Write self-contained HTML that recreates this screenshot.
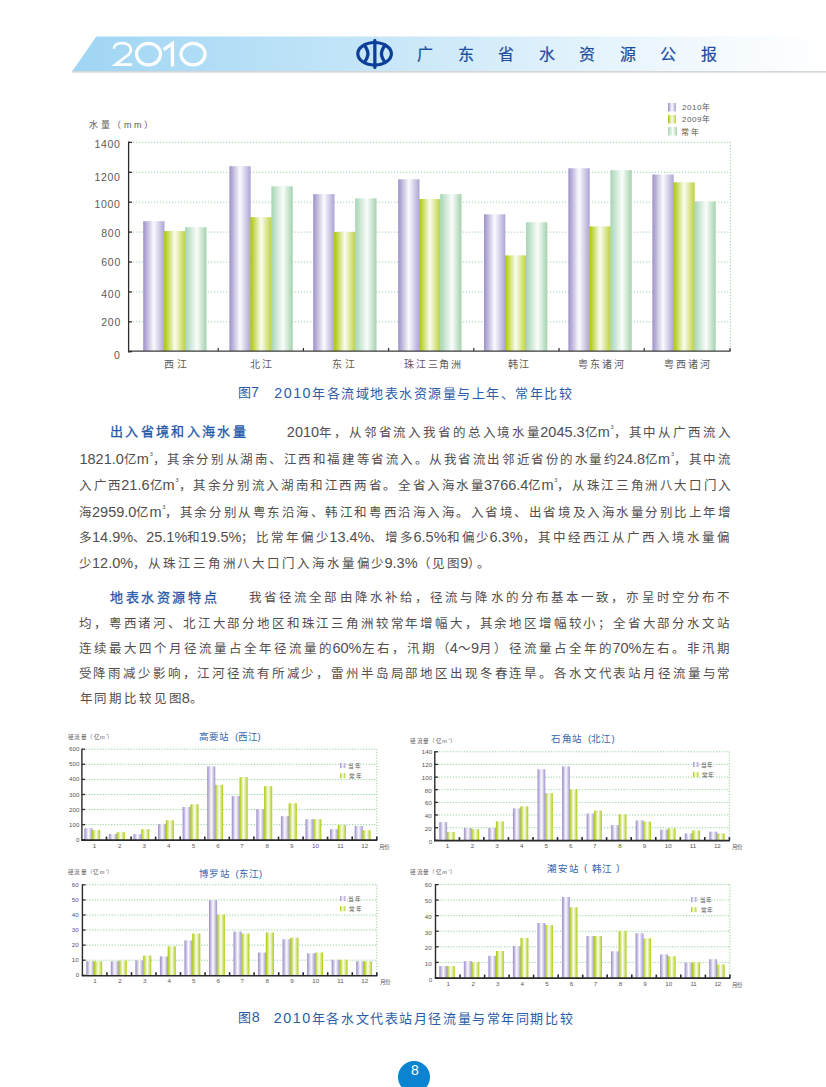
<!DOCTYPE html><html lang="zh-CN"><head><meta charset="utf-8"><title>2010 广东省水资源公报</title><style>
html,body{margin:0;padding:0;background:#fff;}
body{width:826px;height:1087px;position:relative;overflow:hidden;font-family:"Liberation Sans", sans-serif;}
.t{position:absolute;white-space:nowrap;line-height:1;}
svg.g{position:absolute;left:0;top:0;}
sup{font-size:0.45em;vertical-align:0;position:relative;top:-1.4em;margin-left:0.8px;letter-spacing:0;}.l{margin-left:calc(-1 * var(--ls, 0px));}
</style></head><body>
<svg class="g" width="826" height="1087" viewBox="0 0 826 1087"><defs><linearGradient id="band" x1="0" y1="0" x2="1" y2="0"><stop offset="0" stop-color="#9fd5f4"/><stop offset="0.4" stop-color="#c6e6f8"/><stop offset="0.65" stop-color="#e0f1fb"/><stop offset="0.88" stop-color="#f6fbfe"/><stop offset="1" stop-color="#ffffff"/></linearGradient><linearGradient id="gp" x1="0" y1="0" x2="1" y2="0"><stop offset="0" stop-color="#9d90c9"/><stop offset="0.5" stop-color="#fbfbfd"/><stop offset="1" stop-color="#ada3d5"/></linearGradient><linearGradient id="gy" x1="0" y1="0" x2="1" y2="0"><stop offset="0" stop-color="#a9c600"/><stop offset="0.5" stop-color="#fbfcf2"/><stop offset="1" stop-color="#bdd13c"/></linearGradient><linearGradient id="gg" x1="0" y1="0" x2="1" y2="0"><stop offset="0" stop-color="#a6d5b5"/><stop offset="0.55" stop-color="#fbfdfb"/><stop offset="1" stop-color="#a3d2ad"/></linearGradient><linearGradient id="gp2" x1="0" y1="0" x2="1" y2="0"><stop offset="0" stop-color="#9a8bc8"/><stop offset="0.22" stop-color="#c4bbe0"/><stop offset="0.5" stop-color="#fcfcfe"/><stop offset="0.78" stop-color="#cbc2e4"/><stop offset="1" stop-color="#a093cf"/></linearGradient><linearGradient id="gy2" x1="0" y1="0" x2="1" y2="0"><stop offset="0" stop-color="#a6c600"/><stop offset="0.22" stop-color="#cde06a"/><stop offset="0.5" stop-color="#fcfdf2"/><stop offset="0.78" stop-color="#d3e37a"/><stop offset="1" stop-color="#acca0c"/></linearGradient></defs><rect x="72" y="70.5" width="754" height="2.2" fill="#d6d6d6"/><polygon points="96.3,36.5 826,36.5 826,71 72.5,71" fill="url(#band)"/><g fill="none" stroke="#ffffff" stroke-width="3.2" stroke-linecap="butt" stroke-linejoin="miter"><path d="M113.8,48.6 C113.9,44.9 117.6,43.1 122.0,43.1 C127.2,43.1 130.9,45.7 130.9,49.4 C130.9,52.7 128.9,54.6 125.6,56.8 L115.4,64.7 L132.2,64.7" stroke-width="2.7"/><ellipse cx="148.55" cy="54.1" rx="12.05" ry="10.8"/><path d="M163.6,49.6 L172.4,43.6 L172.4,66.5" stroke-width="3.4"/><ellipse cx="193.05" cy="54.1" rx="12.05" ry="10.8"/></g><g fill="none" stroke="#0b3f99" stroke-width="3.2"><ellipse cx="374.6" cy="53.8" rx="16.8" ry="11.3"/><path d="M363.2,44.2 Q372.6,53.8 363.2,63.4"/><path d="M386.2,44.2 Q376.8,53.8 386.2,63.4"/></g><line x1="374.85" y1="40.4" x2="374.85" y2="67.4" stroke="#0b3f99" stroke-width="3.3" stroke-linecap="round"/><line x1="133" y1="321.8" x2="730.5" y2="321.8" stroke="#9fd2a6" stroke-width="1" stroke-dasharray="1.2,1.8"/><line x1="133" y1="291.9" x2="730.5" y2="291.9" stroke="#9fd2a6" stroke-width="1" stroke-dasharray="1.2,1.8"/><line x1="133" y1="262.0" x2="730.5" y2="262.0" stroke="#9fd2a6" stroke-width="1" stroke-dasharray="1.2,1.8"/><line x1="133" y1="232.1" x2="730.5" y2="232.1" stroke="#9fd2a6" stroke-width="1" stroke-dasharray="1.2,1.8"/><line x1="133" y1="202.2" x2="730.5" y2="202.2" stroke="#9fd2a6" stroke-width="1" stroke-dasharray="1.2,1.8"/><line x1="133" y1="172.3" x2="730.5" y2="172.3" stroke="#9fd2a6" stroke-width="1" stroke-dasharray="1.2,1.8"/><line x1="133" y1="142.4" x2="730.5" y2="142.4" stroke="#9fd2a6" stroke-width="1" stroke-dasharray="1.2,1.8"/><line x1="730.4" y1="142" x2="730.4" y2="351.7" stroke="#9fd2a6" stroke-width="1" stroke-dasharray="1.2,1.8"/><rect x="143.20" y="221.19" width="21.30" height="129.91" fill="url(#gp)"/><rect x="164.20" y="231.05" width="21.30" height="120.05" fill="url(#gy)"/><rect x="185.20" y="227.17" width="21.30" height="123.93" fill="url(#gg)"/><rect x="229.40" y="166.17" width="21.30" height="184.93" fill="url(#gp)"/><rect x="250.40" y="217.15" width="21.30" height="133.95" fill="url(#gy)"/><rect x="271.40" y="186.35" width="21.30" height="164.75" fill="url(#gg)"/><rect x="313.20" y="194.13" width="21.30" height="156.97" fill="url(#gp)"/><rect x="334.20" y="232.10" width="21.30" height="119.00" fill="url(#gy)"/><rect x="355.20" y="198.31" width="21.30" height="152.79" fill="url(#gg)"/><rect x="398.20" y="179.33" width="21.30" height="171.77" fill="url(#gp)"/><rect x="419.20" y="199.06" width="21.30" height="152.04" fill="url(#gy)"/><rect x="440.20" y="194.13" width="21.30" height="156.97" fill="url(#gg)"/><rect x="484.00" y="214.31" width="21.30" height="136.79" fill="url(#gp)"/><rect x="505.00" y="255.42" width="21.30" height="95.68" fill="url(#gy)"/><rect x="526.00" y="222.23" width="21.30" height="128.87" fill="url(#gg)"/><rect x="568.40" y="168.26" width="21.30" height="182.84" fill="url(#gp)"/><rect x="589.40" y="226.42" width="21.30" height="124.68" fill="url(#gy)"/><rect x="610.40" y="170.21" width="21.30" height="180.89" fill="url(#gg)"/><rect x="652.40" y="174.54" width="21.30" height="176.56" fill="url(#gp)"/><rect x="673.40" y="182.32" width="21.30" height="168.78" fill="url(#gy)"/><rect x="694.40" y="201.45" width="21.30" height="149.65" fill="url(#gg)"/><line x1="128.6" y1="141.5" x2="128.6" y2="352.5" stroke="#2b2b2b" stroke-width="1.3"/><line x1="128" y1="351.1" x2="730.6" y2="351.1" stroke="#3b3b3b" stroke-width="1.4"/><line x1="128.6" y1="351.7" x2="132" y2="351.7" stroke="#2b2b2b" stroke-width="1.3"/><line x1="128.6" y1="321.8" x2="132" y2="321.8" stroke="#2b2b2b" stroke-width="1.3"/><line x1="128.6" y1="291.9" x2="132" y2="291.9" stroke="#2b2b2b" stroke-width="1.3"/><line x1="128.6" y1="262.0" x2="132" y2="262.0" stroke="#2b2b2b" stroke-width="1.3"/><line x1="128.6" y1="232.1" x2="132" y2="232.1" stroke="#2b2b2b" stroke-width="1.3"/><line x1="128.6" y1="202.2" x2="132" y2="202.2" stroke="#2b2b2b" stroke-width="1.3"/><line x1="128.6" y1="172.3" x2="132" y2="172.3" stroke="#2b2b2b" stroke-width="1.3"/><line x1="128.6" y1="142.4" x2="132" y2="142.4" stroke="#2b2b2b" stroke-width="1.3"/><line x1="218.2" y1="351.1" x2="218.2" y2="348.1" stroke="#2b2b2b" stroke-width="1.2"/><line x1="303.4" y1="351.1" x2="303.4" y2="348.1" stroke="#2b2b2b" stroke-width="1.2"/><line x1="388.6" y1="351.1" x2="388.6" y2="348.1" stroke="#2b2b2b" stroke-width="1.2"/><line x1="473.8" y1="351.1" x2="473.8" y2="348.1" stroke="#2b2b2b" stroke-width="1.2"/><line x1="559.0" y1="351.1" x2="559.0" y2="348.1" stroke="#2b2b2b" stroke-width="1.2"/><line x1="644.2" y1="351.1" x2="644.2" y2="348.1" stroke="#2b2b2b" stroke-width="1.2"/><line x1="730.0" y1="351.1" x2="730.0" y2="348.1" stroke="#2b2b2b" stroke-width="1.2"/><rect x="668" y="103" width="8" height="8.5" fill="url(#gp)"/><rect x="668" y="115" width="8" height="8.5" fill="url(#gy)"/><rect x="668" y="127" width="9" height="8.5" fill="url(#gg)"/><line x1="85.9" y1="824.6" x2="376.8" y2="824.6" stroke="#96d29e" stroke-width="1" stroke-dasharray="1.2,1.6"/><line x1="85.9" y1="809.5" x2="376.8" y2="809.5" stroke="#96d29e" stroke-width="1" stroke-dasharray="1.2,1.6"/><line x1="85.9" y1="794.5" x2="376.8" y2="794.5" stroke="#96d29e" stroke-width="1" stroke-dasharray="1.2,1.6"/><line x1="85.9" y1="779.4" x2="376.8" y2="779.4" stroke="#96d29e" stroke-width="1" stroke-dasharray="1.2,1.6"/><line x1="85.9" y1="764.3" x2="376.8" y2="764.3" stroke="#96d29e" stroke-width="1" stroke-dasharray="1.2,1.6"/><line x1="85.9" y1="749.2" x2="376.8" y2="749.2" stroke="#96d29e" stroke-width="1" stroke-dasharray="1.2,1.6"/><line x1="376.8" y1="749.2" x2="376.8" y2="839.7" stroke="#96d29e" stroke-width="1" stroke-dasharray="1.2,1.6"/><rect x="84.30" y="828.24" width="8.10" height="11.86" fill="url(#gp2)"/><rect x="92.10" y="830.05" width="8.10" height="10.05" fill="url(#gy2)"/><rect x="108.88" y="834.12" width="8.10" height="5.98" fill="url(#gp2)"/><rect x="116.68" y="832.16" width="8.10" height="7.94" fill="url(#gy2)"/><rect x="133.45" y="834.12" width="8.10" height="5.98" fill="url(#gp2)"/><rect x="141.25" y="829.14" width="8.10" height="10.96" fill="url(#gy2)"/><rect x="158.03" y="824.01" width="8.10" height="16.09" fill="url(#gp2)"/><rect x="165.83" y="820.24" width="8.10" height="19.86" fill="url(#gy2)"/><rect x="182.60" y="806.97" width="8.10" height="33.13" fill="url(#gp2)"/><rect x="190.40" y="804.25" width="8.10" height="35.85" fill="url(#gy2)"/><rect x="207.18" y="766.39" width="8.10" height="73.71" fill="url(#gp2)"/><rect x="214.98" y="784.80" width="8.10" height="55.30" fill="url(#gy2)"/><rect x="231.75" y="796.11" width="8.10" height="43.99" fill="url(#gp2)"/><rect x="239.55" y="777.10" width="8.10" height="63.00" fill="url(#gy2)"/><rect x="256.32" y="809.08" width="8.10" height="31.02" fill="url(#gp2)"/><rect x="264.12" y="786.15" width="8.10" height="53.95" fill="url(#gy2)"/><rect x="280.90" y="816.17" width="8.10" height="23.93" fill="url(#gp2)"/><rect x="288.70" y="803.20" width="8.10" height="36.90" fill="url(#gy2)"/><rect x="305.47" y="819.19" width="8.10" height="20.91" fill="url(#gp2)"/><rect x="313.27" y="819.19" width="8.10" height="20.91" fill="url(#gy2)"/><rect x="330.05" y="829.14" width="8.10" height="10.96" fill="url(#gp2)"/><rect x="337.85" y="824.92" width="8.10" height="15.18" fill="url(#gy2)"/><rect x="354.62" y="825.97" width="8.10" height="14.13" fill="url(#gp2)"/><rect x="362.43" y="830.20" width="8.10" height="9.90" fill="url(#gy2)"/><line x1="81.9" y1="748.7" x2="81.9" y2="840.5" stroke="#2a2a2a" stroke-width="1.4"/><line x1="81.2" y1="840.1" x2="377.3" y2="840.1" stroke="#2a2a2a" stroke-width="1.6"/><line x1="81.9" y1="839.7" x2="85.1" y2="839.7" stroke="#2a2a2a" stroke-width="1.3"/><line x1="81.9" y1="824.6" x2="85.1" y2="824.6" stroke="#2a2a2a" stroke-width="1.3"/><line x1="81.9" y1="809.5" x2="85.1" y2="809.5" stroke="#2a2a2a" stroke-width="1.3"/><line x1="81.9" y1="794.5" x2="85.1" y2="794.5" stroke="#2a2a2a" stroke-width="1.3"/><line x1="81.9" y1="779.4" x2="85.1" y2="779.4" stroke="#2a2a2a" stroke-width="1.3"/><line x1="81.9" y1="764.3" x2="85.1" y2="764.3" stroke="#2a2a2a" stroke-width="1.3"/><line x1="81.9" y1="749.2" x2="85.1" y2="749.2" stroke="#2a2a2a" stroke-width="1.3"/><line x1="106.5" y1="840.1" x2="106.5" y2="836.6" stroke="#2a2a2a" stroke-width="1.6"/><line x1="131.1" y1="840.1" x2="131.1" y2="836.6" stroke="#2a2a2a" stroke-width="1.6"/><line x1="155.6" y1="840.1" x2="155.6" y2="836.6" stroke="#2a2a2a" stroke-width="1.6"/><line x1="180.2" y1="840.1" x2="180.2" y2="836.6" stroke="#2a2a2a" stroke-width="1.6"/><line x1="204.8" y1="840.1" x2="204.8" y2="836.6" stroke="#2a2a2a" stroke-width="1.6"/><line x1="229.3" y1="840.1" x2="229.3" y2="836.6" stroke="#2a2a2a" stroke-width="1.6"/><line x1="253.9" y1="840.1" x2="253.9" y2="836.6" stroke="#2a2a2a" stroke-width="1.6"/><line x1="278.5" y1="840.1" x2="278.5" y2="836.6" stroke="#2a2a2a" stroke-width="1.6"/><line x1="303.1" y1="840.1" x2="303.1" y2="836.6" stroke="#2a2a2a" stroke-width="1.6"/><line x1="327.6" y1="840.1" x2="327.6" y2="836.6" stroke="#2a2a2a" stroke-width="1.6"/><line x1="352.2" y1="840.1" x2="352.2" y2="836.6" stroke="#2a2a2a" stroke-width="1.6"/><line x1="376.8" y1="840.1" x2="376.8" y2="836.6" stroke="#2a2a2a" stroke-width="1.6"/><rect x="340" y="763" width="5.4" height="5" fill="url(#gp2)"/><rect x="340" y="773.2" width="5.4" height="5" fill="url(#gy2)"/><line x1="438.8" y1="827.7" x2="729.4" y2="827.7" stroke="#96d29e" stroke-width="1" stroke-dasharray="1.2,1.6"/><line x1="438.8" y1="815.0" x2="729.4" y2="815.0" stroke="#96d29e" stroke-width="1" stroke-dasharray="1.2,1.6"/><line x1="438.8" y1="802.4" x2="729.4" y2="802.4" stroke="#96d29e" stroke-width="1" stroke-dasharray="1.2,1.6"/><line x1="438.8" y1="789.7" x2="729.4" y2="789.7" stroke="#96d29e" stroke-width="1" stroke-dasharray="1.2,1.6"/><line x1="438.8" y1="777.1" x2="729.4" y2="777.1" stroke="#96d29e" stroke-width="1" stroke-dasharray="1.2,1.6"/><line x1="438.8" y1="764.4" x2="729.4" y2="764.4" stroke="#96d29e" stroke-width="1" stroke-dasharray="1.2,1.6"/><line x1="438.8" y1="751.8" x2="729.4" y2="751.8" stroke="#96d29e" stroke-width="1" stroke-dasharray="1.2,1.6"/><line x1="729.4" y1="751.8" x2="729.4" y2="840.3" stroke="#96d29e" stroke-width="1" stroke-dasharray="1.2,1.6"/><rect x="439.30" y="822.09" width="7.80" height="18.51" fill="url(#gp2)"/><rect x="446.80" y="831.96" width="7.80" height="8.64" fill="url(#gy2)"/><rect x="463.85" y="828.04" width="7.80" height="12.56" fill="url(#gp2)"/><rect x="471.35" y="829.05" width="7.80" height="11.55" fill="url(#gy2)"/><rect x="488.40" y="828.04" width="7.80" height="12.56" fill="url(#gp2)"/><rect x="495.90" y="821.34" width="7.80" height="19.26" fill="url(#gy2)"/><rect x="512.95" y="808.38" width="7.80" height="32.22" fill="url(#gp2)"/><rect x="520.45" y="806.35" width="7.80" height="34.25" fill="url(#gy2)"/><rect x="537.50" y="769.25" width="7.80" height="71.35" fill="url(#gp2)"/><rect x="545.00" y="793.21" width="7.80" height="47.39" fill="url(#gy2)"/><rect x="562.05" y="766.40" width="7.80" height="74.20" fill="url(#gp2)"/><rect x="569.55" y="789.35" width="7.80" height="51.25" fill="url(#gy2)"/><rect x="586.60" y="813.50" width="7.80" height="27.10" fill="url(#gp2)"/><rect x="594.10" y="810.59" width="7.80" height="30.01" fill="url(#gy2)"/><rect x="611.15" y="825.13" width="7.80" height="15.47" fill="url(#gp2)"/><rect x="618.65" y="814.38" width="7.80" height="26.22" fill="url(#gy2)"/><rect x="635.70" y="820.39" width="7.80" height="20.21" fill="url(#gp2)"/><rect x="643.20" y="821.59" width="7.80" height="19.01" fill="url(#gy2)"/><rect x="660.25" y="829.55" width="7.80" height="11.05" fill="url(#gp2)"/><rect x="667.75" y="828.29" width="7.80" height="12.31" fill="url(#gy2)"/><rect x="684.80" y="833.35" width="7.80" height="7.25" fill="url(#gp2)"/><rect x="692.30" y="830.44" width="7.80" height="10.16" fill="url(#gy2)"/><rect x="709.35" y="831.64" width="7.80" height="8.96" fill="url(#gp2)"/><rect x="716.85" y="833.35" width="7.80" height="7.25" fill="url(#gy2)"/><line x1="434.8" y1="751.3" x2="434.8" y2="841.1" stroke="#2a2a2a" stroke-width="1.4"/><line x1="434.1" y1="840.6" x2="729.9" y2="840.6" stroke="#2a2a2a" stroke-width="1.6"/><line x1="434.8" y1="840.3" x2="438.0" y2="840.3" stroke="#2a2a2a" stroke-width="1.3"/><line x1="434.8" y1="827.7" x2="438.0" y2="827.7" stroke="#2a2a2a" stroke-width="1.3"/><line x1="434.8" y1="815.0" x2="438.0" y2="815.0" stroke="#2a2a2a" stroke-width="1.3"/><line x1="434.8" y1="802.4" x2="438.0" y2="802.4" stroke="#2a2a2a" stroke-width="1.3"/><line x1="434.8" y1="789.7" x2="438.0" y2="789.7" stroke="#2a2a2a" stroke-width="1.3"/><line x1="434.8" y1="777.1" x2="438.0" y2="777.1" stroke="#2a2a2a" stroke-width="1.3"/><line x1="434.8" y1="764.4" x2="438.0" y2="764.4" stroke="#2a2a2a" stroke-width="1.3"/><line x1="434.8" y1="751.8" x2="438.0" y2="751.8" stroke="#2a2a2a" stroke-width="1.3"/><line x1="459.4" y1="840.6" x2="459.4" y2="837.1" stroke="#2a2a2a" stroke-width="1.6"/><line x1="483.9" y1="840.6" x2="483.9" y2="837.1" stroke="#2a2a2a" stroke-width="1.6"/><line x1="508.4" y1="840.6" x2="508.4" y2="837.1" stroke="#2a2a2a" stroke-width="1.6"/><line x1="533.0" y1="840.6" x2="533.0" y2="837.1" stroke="#2a2a2a" stroke-width="1.6"/><line x1="557.5" y1="840.6" x2="557.5" y2="837.1" stroke="#2a2a2a" stroke-width="1.6"/><line x1="582.1" y1="840.6" x2="582.1" y2="837.1" stroke="#2a2a2a" stroke-width="1.6"/><line x1="606.6" y1="840.6" x2="606.6" y2="837.1" stroke="#2a2a2a" stroke-width="1.6"/><line x1="631.2" y1="840.6" x2="631.2" y2="837.1" stroke="#2a2a2a" stroke-width="1.6"/><line x1="655.8" y1="840.6" x2="655.8" y2="837.1" stroke="#2a2a2a" stroke-width="1.6"/><line x1="680.3" y1="840.6" x2="680.3" y2="837.1" stroke="#2a2a2a" stroke-width="1.6"/><line x1="704.8" y1="840.6" x2="704.8" y2="837.1" stroke="#2a2a2a" stroke-width="1.6"/><line x1="729.4" y1="840.6" x2="729.4" y2="837.1" stroke="#2a2a2a" stroke-width="1.6"/><rect x="693" y="762" width="5.4" height="5" fill="url(#gp2)"/><rect x="693" y="772.2" width="5.4" height="5" fill="url(#gy2)"/><line x1="86.4" y1="960.2" x2="376.8" y2="960.2" stroke="#96d29e" stroke-width="1" stroke-dasharray="1.2,1.6"/><line x1="86.4" y1="945.1" x2="376.8" y2="945.1" stroke="#96d29e" stroke-width="1" stroke-dasharray="1.2,1.6"/><line x1="86.4" y1="930.0" x2="376.8" y2="930.0" stroke="#96d29e" stroke-width="1" stroke-dasharray="1.2,1.6"/><line x1="86.4" y1="915.0" x2="376.8" y2="915.0" stroke="#96d29e" stroke-width="1" stroke-dasharray="1.2,1.6"/><line x1="86.4" y1="899.9" x2="376.8" y2="899.9" stroke="#96d29e" stroke-width="1" stroke-dasharray="1.2,1.6"/><line x1="86.4" y1="884.8" x2="376.8" y2="884.8" stroke="#96d29e" stroke-width="1" stroke-dasharray="1.2,1.6"/><line x1="376.8" y1="884.8" x2="376.8" y2="975.3" stroke="#96d29e" stroke-width="1" stroke-dasharray="1.2,1.6"/><rect x="86.30" y="961.27" width="8.10" height="14.43" fill="url(#gp2)"/><rect x="94.10" y="961.27" width="8.10" height="14.43" fill="url(#gy2)"/><rect x="110.83" y="961.27" width="8.10" height="14.43" fill="url(#gp2)"/><rect x="118.63" y="960.52" width="8.10" height="15.18" fill="url(#gy2)"/><rect x="135.37" y="960.37" width="8.10" height="15.33" fill="url(#gp2)"/><rect x="143.17" y="955.54" width="8.10" height="20.16" fill="url(#gy2)"/><rect x="159.90" y="956.45" width="8.10" height="19.25" fill="url(#gp2)"/><rect x="167.70" y="946.34" width="8.10" height="29.36" fill="url(#gy2)"/><rect x="184.43" y="940.46" width="8.10" height="35.24" fill="url(#gp2)"/><rect x="192.23" y="933.52" width="8.10" height="42.18" fill="url(#gy2)"/><rect x="208.97" y="900.18" width="8.10" height="75.52" fill="url(#gp2)"/><rect x="216.77" y="914.51" width="8.10" height="61.19" fill="url(#gy2)"/><rect x="233.50" y="931.56" width="8.10" height="44.14" fill="url(#gp2)"/><rect x="241.30" y="933.52" width="8.10" height="42.18" fill="url(#gy2)"/><rect x="258.03" y="952.52" width="8.10" height="23.18" fill="url(#gp2)"/><rect x="265.83" y="932.46" width="8.10" height="43.24" fill="url(#gy2)"/><rect x="282.57" y="939.25" width="8.10" height="36.45" fill="url(#gp2)"/><rect x="290.37" y="937.74" width="8.10" height="37.96" fill="url(#gy2)"/><rect x="307.10" y="953.43" width="8.10" height="22.27" fill="url(#gp2)"/><rect x="314.90" y="952.52" width="8.10" height="23.18" fill="url(#gy2)"/><rect x="331.63" y="959.76" width="8.10" height="15.94" fill="url(#gp2)"/><rect x="339.43" y="959.76" width="8.10" height="15.94" fill="url(#gy2)"/><rect x="356.17" y="961.27" width="8.10" height="14.43" fill="url(#gp2)"/><rect x="363.97" y="961.27" width="8.10" height="14.43" fill="url(#gy2)"/><line x1="82.4" y1="884.3" x2="82.4" y2="976.1" stroke="#2a2a2a" stroke-width="1.4"/><line x1="81.7" y1="975.7" x2="377.3" y2="975.7" stroke="#2a2a2a" stroke-width="1.6"/><line x1="82.4" y1="975.3" x2="85.6" y2="975.3" stroke="#2a2a2a" stroke-width="1.3"/><line x1="82.4" y1="960.2" x2="85.6" y2="960.2" stroke="#2a2a2a" stroke-width="1.3"/><line x1="82.4" y1="945.1" x2="85.6" y2="945.1" stroke="#2a2a2a" stroke-width="1.3"/><line x1="82.4" y1="930.0" x2="85.6" y2="930.0" stroke="#2a2a2a" stroke-width="1.3"/><line x1="82.4" y1="915.0" x2="85.6" y2="915.0" stroke="#2a2a2a" stroke-width="1.3"/><line x1="82.4" y1="899.9" x2="85.6" y2="899.9" stroke="#2a2a2a" stroke-width="1.3"/><line x1="82.4" y1="884.8" x2="85.6" y2="884.8" stroke="#2a2a2a" stroke-width="1.3"/><line x1="106.9" y1="975.7" x2="106.9" y2="972.2" stroke="#2a2a2a" stroke-width="1.6"/><line x1="131.5" y1="975.7" x2="131.5" y2="972.2" stroke="#2a2a2a" stroke-width="1.6"/><line x1="156.0" y1="975.7" x2="156.0" y2="972.2" stroke="#2a2a2a" stroke-width="1.6"/><line x1="180.5" y1="975.7" x2="180.5" y2="972.2" stroke="#2a2a2a" stroke-width="1.6"/><line x1="205.1" y1="975.7" x2="205.1" y2="972.2" stroke="#2a2a2a" stroke-width="1.6"/><line x1="229.6" y1="975.7" x2="229.6" y2="972.2" stroke="#2a2a2a" stroke-width="1.6"/><line x1="254.1" y1="975.7" x2="254.1" y2="972.2" stroke="#2a2a2a" stroke-width="1.6"/><line x1="278.7" y1="975.7" x2="278.7" y2="972.2" stroke="#2a2a2a" stroke-width="1.6"/><line x1="303.2" y1="975.7" x2="303.2" y2="972.2" stroke="#2a2a2a" stroke-width="1.6"/><line x1="327.7" y1="975.7" x2="327.7" y2="972.2" stroke="#2a2a2a" stroke-width="1.6"/><line x1="352.3" y1="975.7" x2="352.3" y2="972.2" stroke="#2a2a2a" stroke-width="1.6"/><line x1="376.8" y1="975.7" x2="376.8" y2="972.2" stroke="#2a2a2a" stroke-width="1.6"/><rect x="340" y="896" width="5.4" height="5" fill="url(#gp2)"/><rect x="340" y="906.2" width="5.4" height="5" fill="url(#gy2)"/><line x1="439.5" y1="962.4" x2="729.9" y2="962.4" stroke="#96d29e" stroke-width="1" stroke-dasharray="1.2,1.6"/><line x1="439.5" y1="946.8" x2="729.9" y2="946.8" stroke="#96d29e" stroke-width="1" stroke-dasharray="1.2,1.6"/><line x1="439.5" y1="931.2" x2="729.9" y2="931.2" stroke="#96d29e" stroke-width="1" stroke-dasharray="1.2,1.6"/><line x1="439.5" y1="915.7" x2="729.9" y2="915.7" stroke="#96d29e" stroke-width="1" stroke-dasharray="1.2,1.6"/><line x1="439.5" y1="900.1" x2="729.9" y2="900.1" stroke="#96d29e" stroke-width="1" stroke-dasharray="1.2,1.6"/><line x1="439.5" y1="884.6" x2="729.9" y2="884.6" stroke="#96d29e" stroke-width="1" stroke-dasharray="1.2,1.6"/><line x1="729.9" y1="884.6" x2="729.9" y2="977.9" stroke="#96d29e" stroke-width="1" stroke-dasharray="1.2,1.6"/><rect x="439.30" y="966.08" width="7.90" height="12.02" fill="url(#gp2)"/><rect x="446.90" y="966.08" width="7.90" height="12.02" fill="url(#gy2)"/><rect x="463.83" y="961.11" width="7.90" height="16.99" fill="url(#gp2)"/><rect x="471.43" y="962.04" width="7.90" height="16.06" fill="url(#gy2)"/><rect x="488.37" y="955.82" width="7.90" height="22.28" fill="url(#gp2)"/><rect x="495.97" y="951.00" width="7.90" height="27.10" fill="url(#gy2)"/><rect x="512.90" y="946.02" width="7.90" height="32.08" fill="url(#gp2)"/><rect x="520.50" y="937.94" width="7.90" height="40.16" fill="url(#gy2)"/><rect x="537.43" y="923.01" width="7.90" height="55.09" fill="url(#gp2)"/><rect x="545.03" y="925.03" width="7.90" height="53.07" fill="url(#gy2)"/><rect x="561.97" y="897.04" width="7.90" height="81.06" fill="url(#gp2)"/><rect x="569.57" y="907.15" width="7.90" height="70.95" fill="url(#gy2)"/><rect x="586.50" y="936.07" width="7.90" height="42.03" fill="url(#gp2)"/><rect x="594.10" y="936.07" width="7.90" height="42.03" fill="url(#gy2)"/><rect x="611.03" y="951.31" width="7.90" height="26.79" fill="url(#gp2)"/><rect x="618.63" y="930.94" width="7.90" height="47.16" fill="url(#gy2)"/><rect x="635.57" y="933.27" width="7.90" height="44.83" fill="url(#gp2)"/><rect x="643.17" y="938.40" width="7.90" height="39.70" fill="url(#gy2)"/><rect x="660.10" y="954.42" width="7.90" height="23.68" fill="url(#gp2)"/><rect x="667.70" y="956.29" width="7.90" height="21.81" fill="url(#gy2)"/><rect x="684.63" y="962.51" width="7.90" height="15.59" fill="url(#gp2)"/><rect x="692.23" y="962.51" width="7.90" height="15.59" fill="url(#gy2)"/><rect x="709.17" y="959.24" width="7.90" height="18.86" fill="url(#gp2)"/><rect x="716.77" y="964.37" width="7.90" height="13.73" fill="url(#gy2)"/><line x1="435.5" y1="884.1" x2="435.5" y2="978.7" stroke="#2a2a2a" stroke-width="1.4"/><line x1="434.8" y1="978.1" x2="730.4" y2="978.1" stroke="#2a2a2a" stroke-width="1.6"/><line x1="435.5" y1="977.9" x2="438.7" y2="977.9" stroke="#2a2a2a" stroke-width="1.3"/><line x1="435.5" y1="962.4" x2="438.7" y2="962.4" stroke="#2a2a2a" stroke-width="1.3"/><line x1="435.5" y1="946.8" x2="438.7" y2="946.8" stroke="#2a2a2a" stroke-width="1.3"/><line x1="435.5" y1="931.2" x2="438.7" y2="931.2" stroke="#2a2a2a" stroke-width="1.3"/><line x1="435.5" y1="915.7" x2="438.7" y2="915.7" stroke="#2a2a2a" stroke-width="1.3"/><line x1="435.5" y1="900.1" x2="438.7" y2="900.1" stroke="#2a2a2a" stroke-width="1.3"/><line x1="435.5" y1="884.6" x2="438.7" y2="884.6" stroke="#2a2a2a" stroke-width="1.3"/><line x1="460.0" y1="978.1" x2="460.0" y2="974.6" stroke="#2a2a2a" stroke-width="1.6"/><line x1="484.6" y1="978.1" x2="484.6" y2="974.6" stroke="#2a2a2a" stroke-width="1.6"/><line x1="509.1" y1="978.1" x2="509.1" y2="974.6" stroke="#2a2a2a" stroke-width="1.6"/><line x1="533.6" y1="978.1" x2="533.6" y2="974.6" stroke="#2a2a2a" stroke-width="1.6"/><line x1="558.2" y1="978.1" x2="558.2" y2="974.6" stroke="#2a2a2a" stroke-width="1.6"/><line x1="582.7" y1="978.1" x2="582.7" y2="974.6" stroke="#2a2a2a" stroke-width="1.6"/><line x1="607.2" y1="978.1" x2="607.2" y2="974.6" stroke="#2a2a2a" stroke-width="1.6"/><line x1="631.8" y1="978.1" x2="631.8" y2="974.6" stroke="#2a2a2a" stroke-width="1.6"/><line x1="656.3" y1="978.1" x2="656.3" y2="974.6" stroke="#2a2a2a" stroke-width="1.6"/><line x1="680.8" y1="978.1" x2="680.8" y2="974.6" stroke="#2a2a2a" stroke-width="1.6"/><line x1="705.4" y1="978.1" x2="705.4" y2="974.6" stroke="#2a2a2a" stroke-width="1.6"/><line x1="729.9" y1="978.1" x2="729.9" y2="974.6" stroke="#2a2a2a" stroke-width="1.6"/><rect x="691" y="897" width="5.4" height="5" fill="url(#gp2)"/><rect x="691" y="907.2" width="5.4" height="5" fill="url(#gy2)"/><circle cx="414" cy="1077" r="16" fill="#0a84d0"/></svg>
<div class="t" style="left:417.2px;top:47.4px;font-size:16px;color:#1d4d9e;--ls:24.514px;letter-spacing:24.514px;-webkit-text-stroke:0.2px #1d4d9e;">广东省水资源公报</div>
<div class="t" style="left:89.0px;top:121.2px;font-size:9px;color:#5e5959;--ls:2.640px;letter-spacing:2.640px;">水量（mm）</div>
<div class="t" style="left:94.5px;top:138.6px;font-size:10.5px;color:#5e5959;--ls:0.667px;letter-spacing:0.667px;">1400</div>
<div class="t" style="left:94.5px;top:171.5px;font-size:10.5px;color:#5e5959;--ls:0.667px;letter-spacing:0.667px;">1200</div>
<div class="t" style="left:94.5px;top:199.1px;font-size:10.5px;color:#5e5959;--ls:0.667px;letter-spacing:0.667px;">1000</div>
<div class="t" style="left:101.2px;top:228.3px;font-size:10.5px;color:#5e5959;--ls:0.800px;letter-spacing:0.800px;">800</div>
<div class="t" style="left:101.2px;top:256.7px;font-size:10.5px;color:#5e5959;--ls:0.800px;letter-spacing:0.800px;">600</div>
<div class="t" style="left:101.2px;top:289.2px;font-size:10.5px;color:#5e5959;--ls:0.800px;letter-spacing:0.800px;">400</div>
<div class="t" style="left:101.2px;top:316.6px;font-size:10.5px;color:#5e5959;--ls:0.800px;letter-spacing:0.800px;">200</div>
<div class="t" style="left:114.0px;top:350.4px;font-size:10.5px;color:#5e5959;--ls:0.000px;letter-spacing:0.000px;">0</div>
<div class="t" style="left:164.1px;top:359.8px;font-size:10px;color:#5e5959;--ls:2.600px;letter-spacing:2.600px;">西江</div>
<div class="t" style="left:249.7px;top:359.8px;font-size:10px;color:#5e5959;--ls:2.800px;letter-spacing:2.800px;">北江</div>
<div class="t" style="left:332.2px;top:359.8px;font-size:10px;color:#5e5959;--ls:2.800px;letter-spacing:2.800px;">东江</div>
<div class="t" style="left:404.3px;top:359.8px;font-size:10px;color:#5e5959;--ls:1.650px;letter-spacing:1.650px;">珠江三角洲</div>
<div class="t" style="left:507.6px;top:359.8px;font-size:10px;color:#5e5959;--ls:1.600px;letter-spacing:1.600px;">韩江</div>
<div class="t" style="left:577.8px;top:359.8px;font-size:10px;color:#5e5959;--ls:2.000px;letter-spacing:2.000px;">粤东诸河</div>
<div class="t" style="left:664.0px;top:359.8px;font-size:10px;color:#5e5959;--ls:2.000px;letter-spacing:2.000px;">粤西诸河</div>
<div class="t" style="left:681.9px;top:104.2px;font-size:8px;color:#5e5959;--ls:0.600px;letter-spacing:0.600px;">2010年</div>
<div class="t" style="left:681.9px;top:116.3px;font-size:8px;color:#5e5959;--ls:0.600px;letter-spacing:0.600px;">2009年</div>
<div class="t" style="left:681.2px;top:128.7px;font-size:8px;color:#5e5959;--ls:1.400px;letter-spacing:1.400px;">常年</div>
<div class="t" style="left:238.4px;top:384.6px;font-size:13px;color:#2a5ca8;--ls:-0.400px;letter-spacing:-0.400px;">图<span style="font-size:1.1em">7</span></div>
<div class="t" style="left:274.2px;top:385.6px;font-size:13px;color:#2a5ca8;--ls:1.524px;letter-spacing:1.524px;"><span style="font-size:1.1em">2010</span>年各流域地表水资源量与上年、常年比较</div>
<div class="t" style="left:109.9px;top:424.8px;font-size:13px;color:#2358a8;--ls:2.350px;letter-spacing:2.350px;-webkit-text-stroke:0.3px #2358a8;">出入省境和入海水量</div>
<div class="t" style="left:288.7px;top:425.3px;font-size:12.5px;color:#524e4e;--ls:1.867px;letter-spacing:1.867px;"><span class="l" style="font-size:1.16em;letter-spacing:0.0px">2010</span>年，从邻省流入我省的总入境水量<span class="l" style="font-size:1.16em;letter-spacing:0.0px">2045.3</span>亿<span class="l" style="font-size:1.16em;letter-spacing:0.0px">m</span><sup>3</sup>，其中从广西流入</div>
<div class="t" style="left:81.0px;top:451.9px;font-size:12.5px;color:#524e4e;--ls:1.547px;letter-spacing:1.547px;"><span class="l" style="font-size:1.16em;letter-spacing:0.0px">1821.0</span>亿<span class="l" style="font-size:1.16em;letter-spacing:0.0px">m</span><sup>3</sup>，其余分别从湖南、江西和福建等省流入。从我省流出邻近省份的水量约<span class="l" style="font-size:1.16em;letter-spacing:0.0px">24.8</span>亿<span class="l" style="font-size:1.16em;letter-spacing:0.0px">m</span><sup>3</sup>，其中流</div>
<div class="t" style="left:79.0px;top:478.2px;font-size:12.5px;color:#524e4e;--ls:1.624px;letter-spacing:1.624px;">入广西<span class="l" style="font-size:1.16em;letter-spacing:0.0px">21.6</span>亿<span class="l" style="font-size:1.16em;letter-spacing:0.0px">m</span><sup>3</sup>，其余分别流入湖南和江西两省。全省入海水量<span class="l" style="font-size:1.16em;letter-spacing:0.0px">3766.4</span>亿<span class="l" style="font-size:1.16em;letter-spacing:0.0px">m</span><sup>3</sup>，从珠江三角洲八大口门入</div>
<div class="t" style="left:79.0px;top:504.5px;font-size:12.5px;color:#524e4e;--ls:1.542px;letter-spacing:1.542px;">海<span class="l" style="font-size:1.16em;letter-spacing:0.0px">2959.0</span>亿<span class="l" style="font-size:1.16em;letter-spacing:0.0px">m</span><sup>3</sup>，其余分别从粤东沿海、韩江和粤西沿海入海。入省境、出省境及入海水量分别比上年增</div>
<div class="t" style="left:79.0px;top:530.3px;font-size:12.5px;color:#524e4e;--ls:1.982px;letter-spacing:1.982px;">多<span class="l" style="font-size:1.16em;letter-spacing:0.0px">14.9%</span>、<span class="l" style="font-size:1.16em;letter-spacing:0.0px">25.1%</span>和<span class="l" style="font-size:1.16em;letter-spacing:0.0px">19.5%</span>；比常年偏少<span class="l" style="font-size:1.16em;letter-spacing:0.0px">13.4%</span>、增多<span class="l" style="font-size:1.16em;letter-spacing:0.0px">6.5%</span>和偏少<span class="l" style="font-size:1.16em;letter-spacing:0.0px">6.3%</span>，其中经西江从广西入境水量偏</div>
<div class="t" style="left:79.0px;top:555.5px;font-size:12.5px;color:#524e4e;--ls:1.895px;letter-spacing:1.895px;">少<span class="l" style="font-size:1.16em;letter-spacing:0.0px">12.0%</span>，从珠江三角洲八大口门入海水量偏少<span class="l" style="font-size:1.16em;letter-spacing:0.0px">9.3%</span>（见图<span class="l" style="font-size:1.16em;letter-spacing:0.0px">9</span>）。</div>
<div class="t" style="left:110.0px;top:591.0px;font-size:13px;color:#2358a8;--ls:2.600px;letter-spacing:2.600px;-webkit-text-stroke:0.3px #2358a8;">地表水资源特点</div>
<div class="t" style="left:249.0px;top:592.4px;font-size:12.5px;color:#524e4e;--ls:2.097px;letter-spacing:2.097px;">我省径流全部由降水补给，径流与降水的分布基本一致，亦呈时空分布不</div>
<div class="t" style="left:79.2px;top:617.5px;font-size:12.5px;color:#524e4e;--ls:1.828px;letter-spacing:1.828px;">均，粤西诸河、北江大部分地区和珠江三角洲较常年增幅大，其余地区增幅较小；全省大部分水文站</div>
<div class="t" style="left:78.5px;top:640.7px;font-size:12.5px;color:#524e4e;--ls:2.059px;letter-spacing:2.059px;">连续最大四个月径流量占全年径流量的<span class="l" style="font-size:1.16em;letter-spacing:0.0px">60%</span>左右，汛期（<span class="l" style="font-size:1.16em;letter-spacing:0.0px">4</span>～<span class="l" style="font-size:1.16em;letter-spacing:0.0px">9</span>月）径流量占全年的<span class="l" style="font-size:1.16em;letter-spacing:0.0px">70%</span>左右。非汛期</div>
<div class="t" style="left:78.5px;top:668.0px;font-size:12.5px;color:#524e4e;--ls:1.860px;letter-spacing:1.860px;">受降雨减少影响，江河径流有所减少，雷州半岛局部地区出现冬春连旱。各水文代表站月径流量与常</div>
<div class="t" style="left:79.5px;top:691.0px;font-size:12.5px;color:#524e4e;--ls:1.860px;letter-spacing:1.860px;">年同期比较见图<span class="l" style="font-size:1.16em;letter-spacing:0.0px">8</span>。</div>
<div class="t" style="left:198.7px;top:731.6px;font-size:9.5px;color:#3465ae;--ls:0.100px;letter-spacing:0.100px;">高要站</div>
<div class="t" style="left:235.0px;top:731.6px;font-size:9.5px;color:#3465ae;--ls:-0.200px;letter-spacing:-0.200px;">(西江)</div>
<div class="t" style="left:551.4px;top:733.7px;font-size:9.5px;color:#3465ae;--ls:0.500px;letter-spacing:0.500px;">石角站</div>
<div class="t" style="left:587.9px;top:733.7px;font-size:9.5px;color:#3465ae;--ls:0.133px;letter-spacing:0.133px;">(北江)</div>
<div class="t" style="left:198.7px;top:868.7px;font-size:9.5px;color:#3465ae;--ls:0.500px;letter-spacing:0.500px;">博罗站</div>
<div class="t" style="left:235.5px;top:868.7px;font-size:9.5px;color:#3465ae;--ls:0.133px;letter-spacing:0.133px;">(东江)</div>
<div class="t" style="left:547.2px;top:864.0px;font-size:9.5px;color:#3465ae;--ls:1.000px;letter-spacing:1.000px;">潮安站</div>
<div class="t" style="left:584.1px;top:863.0px;font-size:9.5px;color:#3465ae;--ls:0.000px;letter-spacing:0.000px;">(</div>
<div class="t" style="left:591.8px;top:864.0px;font-size:9.5px;color:#3465ae;--ls:0.200px;letter-spacing:0.200px;">韩江</div>
<div class="t" style="left:616.3px;top:863.0px;font-size:9.5px;color:#3465ae;--ls:0.000px;letter-spacing:0.000px;">)</div>
<div class="t" style="left:68.1px;top:734.5px;font-size:5.6px;color:#5a5656;--ls:0.400px;letter-spacing:0.400px;">径流量（亿m<sup>3</sup>）</div>
<div class="t" style="left:410.3px;top:739.4px;font-size:5.6px;color:#5a5656;--ls:0.400px;letter-spacing:0.400px;">径流量（亿m<sup>3</sup>）</div>
<div class="t" style="left:67.8px;top:870.3px;font-size:5.6px;color:#5a5656;--ls:0.400px;letter-spacing:0.400px;">径流量（亿m<sup>3</sup>）</div>
<div class="t" style="left:410.3px;top:870.4px;font-size:5.6px;color:#5a5656;--ls:0.400px;letter-spacing:0.400px;">径流量（亿m<sup>3</sup>）</div>
<div class="t" style="left:76.0px;top:836.8px;font-size:6.2px;color:#5a5656;--ls:0.000px;letter-spacing:0.000px;">0</div>
<div class="t" style="left:69.0px;top:821.72px;font-size:6.2px;color:#5a5656;--ls:0.000px;letter-spacing:0.000px;">100</div>
<div class="t" style="left:69.0px;top:806.64px;font-size:6.2px;color:#5a5656;--ls:0.000px;letter-spacing:0.000px;">200</div>
<div class="t" style="left:69.0px;top:791.56px;font-size:6.2px;color:#5a5656;--ls:0.000px;letter-spacing:0.000px;">300</div>
<div class="t" style="left:69.0px;top:776.48px;font-size:6.2px;color:#5a5656;--ls:0.000px;letter-spacing:0.000px;">400</div>
<div class="t" style="left:69.0px;top:761.4px;font-size:6.2px;color:#5a5656;--ls:0.000px;letter-spacing:0.000px;">500</div>
<div class="t" style="left:69.0px;top:746.32px;font-size:6.2px;color:#5a5656;--ls:0.000px;letter-spacing:0.000px;">600</div>
<div class="t" style="left:428.8px;top:838.9px;font-size:6.2px;color:#5a5656;--ls:0.000px;letter-spacing:0.000px;">0</div>
<div class="t" style="left:424.8px;top:826.09px;font-size:6.2px;color:#5a5656;--ls:0.000px;letter-spacing:0.000px;">20</div>
<div class="t" style="left:424.8px;top:813.28px;font-size:6.2px;color:#5a5656;--ls:0.000px;letter-spacing:0.000px;">40</div>
<div class="t" style="left:424.8px;top:800.47px;font-size:6.2px;color:#5a5656;--ls:0.000px;letter-spacing:0.000px;">60</div>
<div class="t" style="left:424.8px;top:787.66px;font-size:6.2px;color:#5a5656;--ls:0.000px;letter-spacing:0.000px;">80</div>
<div class="t" style="left:421.8px;top:774.85px;font-size:6.2px;color:#5a5656;--ls:0.000px;letter-spacing:0.000px;">100</div>
<div class="t" style="left:421.8px;top:762.04px;font-size:6.2px;color:#5a5656;--ls:0.000px;letter-spacing:0.000px;">120</div>
<div class="t" style="left:421.8px;top:749.23px;font-size:6.2px;color:#5a5656;--ls:0.000px;letter-spacing:0.000px;">140</div>
<div class="t" style="left:75.8px;top:972.2px;font-size:6.2px;color:#5a5656;--ls:0.000px;letter-spacing:0.000px;">0</div>
<div class="t" style="left:71.8px;top:957.12px;font-size:6.2px;color:#5a5656;--ls:0.000px;letter-spacing:0.000px;">10</div>
<div class="t" style="left:71.8px;top:942.04px;font-size:6.2px;color:#5a5656;--ls:0.000px;letter-spacing:0.000px;">20</div>
<div class="t" style="left:71.8px;top:926.96px;font-size:6.2px;color:#5a5656;--ls:0.000px;letter-spacing:0.000px;">30</div>
<div class="t" style="left:71.8px;top:911.88px;font-size:6.2px;color:#5a5656;--ls:0.000px;letter-spacing:0.000px;">40</div>
<div class="t" style="left:71.8px;top:896.8px;font-size:6.2px;color:#5a5656;--ls:0.000px;letter-spacing:0.000px;">50</div>
<div class="t" style="left:71.8px;top:881.72px;font-size:6.2px;color:#5a5656;--ls:0.000px;letter-spacing:0.000px;">60</div>
<div class="t" style="left:428.8px;top:977.3px;font-size:6.2px;color:#5a5656;--ls:0.000px;letter-spacing:0.000px;">0</div>
<div class="t" style="left:424.8px;top:961.37px;font-size:6.2px;color:#5a5656;--ls:0.000px;letter-spacing:0.000px;">10</div>
<div class="t" style="left:424.8px;top:945.44px;font-size:6.2px;color:#5a5656;--ls:0.000px;letter-spacing:0.000px;">20</div>
<div class="t" style="left:424.8px;top:929.51px;font-size:6.2px;color:#5a5656;--ls:0.000px;letter-spacing:0.000px;">30</div>
<div class="t" style="left:424.8px;top:913.58px;font-size:6.2px;color:#5a5656;--ls:0.000px;letter-spacing:0.000px;">40</div>
<div class="t" style="left:424.8px;top:897.65px;font-size:6.2px;color:#5a5656;--ls:0.000px;letter-spacing:0.000px;">50</div>
<div class="t" style="left:424.8px;top:881.72px;font-size:6.2px;color:#5a5656;--ls:0.000px;letter-spacing:0.000px;">60</div>
<div class="t" style="left:92.8px;top:843.0px;font-size:6.2px;color:#5a5656;--ls:0.000px;letter-spacing:0.000px;">1</div>
<div class="t" style="left:117.89px;top:843.0px;font-size:6.2px;color:#5a5656;--ls:0.000px;letter-spacing:0.000px;">2</div>
<div class="t" style="left:142.48px;top:843.0px;font-size:6.2px;color:#5a5656;--ls:0.000px;letter-spacing:0.000px;">3</div>
<div class="t" style="left:167.07px;top:843.0px;font-size:6.2px;color:#5a5656;--ls:0.000px;letter-spacing:0.000px;">4</div>
<div class="t" style="left:191.66px;top:843.0px;font-size:6.2px;color:#5a5656;--ls:0.000px;letter-spacing:0.000px;">5</div>
<div class="t" style="left:216.25px;top:843.0px;font-size:6.2px;color:#5a5656;--ls:0.000px;letter-spacing:0.000px;">6</div>
<div class="t" style="left:240.35px;top:843.0px;font-size:6.2px;color:#5a5656;--ls:0.000px;letter-spacing:0.000px;">7</div>
<div class="t" style="left:265.44px;top:843.0px;font-size:6.2px;color:#5a5656;--ls:0.000px;letter-spacing:0.000px;">8</div>
<div class="t" style="left:290.03px;top:843.0px;font-size:6.2px;color:#5a5656;--ls:0.000px;letter-spacing:0.000px;">9</div>
<div class="t" style="left:312.12px;top:843.0px;font-size:6.2px;color:#5a5656;--ls:0.000px;letter-spacing:0.000px;">10</div>
<div class="t" style="left:337.21px;top:843.0px;font-size:6.2px;color:#5a5656;--ls:0.000px;letter-spacing:0.000px;">11</div>
<div class="t" style="left:361.3px;top:843.0px;font-size:6.2px;color:#5a5656;--ls:0.000px;letter-spacing:0.000px;">12</div>
<div class="t" style="left:445.68px;top:843.4px;font-size:6.2px;color:#5a5656;--ls:0.000px;letter-spacing:0.000px;">1</div>
<div class="t" style="left:470.75px;top:843.4px;font-size:6.2px;color:#5a5656;--ls:0.000px;letter-spacing:0.000px;">2</div>
<div class="t" style="left:495.32px;top:843.4px;font-size:6.2px;color:#5a5656;--ls:0.000px;letter-spacing:0.000px;">3</div>
<div class="t" style="left:519.88px;top:843.4px;font-size:6.2px;color:#5a5656;--ls:0.000px;letter-spacing:0.000px;">4</div>
<div class="t" style="left:544.45px;top:843.4px;font-size:6.2px;color:#5a5656;--ls:0.000px;letter-spacing:0.000px;">5</div>
<div class="t" style="left:569.02px;top:843.4px;font-size:6.2px;color:#5a5656;--ls:0.000px;letter-spacing:0.000px;">6</div>
<div class="t" style="left:593.08px;top:843.4px;font-size:6.2px;color:#5a5656;--ls:0.000px;letter-spacing:0.000px;">7</div>
<div class="t" style="left:618.15px;top:843.4px;font-size:6.2px;color:#5a5656;--ls:0.000px;letter-spacing:0.000px;">8</div>
<div class="t" style="left:642.72px;top:843.4px;font-size:6.2px;color:#5a5656;--ls:0.000px;letter-spacing:0.000px;">9</div>
<div class="t" style="left:664.78px;top:843.4px;font-size:6.2px;color:#5a5656;--ls:0.000px;letter-spacing:0.000px;">10</div>
<div class="t" style="left:689.85px;top:843.4px;font-size:6.2px;color:#5a5656;--ls:0.000px;letter-spacing:0.000px;">11</div>
<div class="t" style="left:713.92px;top:843.4px;font-size:6.2px;color:#5a5656;--ls:0.000px;letter-spacing:0.000px;">12</div>
<div class="t" style="left:93.28px;top:978.3px;font-size:6.2px;color:#5a5656;--ls:0.000px;letter-spacing:0.000px;">1</div>
<div class="t" style="left:118.33px;top:978.3px;font-size:6.2px;color:#5a5656;--ls:0.000px;letter-spacing:0.000px;">2</div>
<div class="t" style="left:142.88px;top:978.3px;font-size:6.2px;color:#5a5656;--ls:0.000px;letter-spacing:0.000px;">3</div>
<div class="t" style="left:167.43px;top:978.3px;font-size:6.2px;color:#5a5656;--ls:0.000px;letter-spacing:0.000px;">4</div>
<div class="t" style="left:191.98px;top:978.3px;font-size:6.2px;color:#5a5656;--ls:0.000px;letter-spacing:0.000px;">5</div>
<div class="t" style="left:216.53px;top:978.3px;font-size:6.2px;color:#5a5656;--ls:0.000px;letter-spacing:0.000px;">6</div>
<div class="t" style="left:240.58px;top:978.3px;font-size:6.2px;color:#5a5656;--ls:0.000px;letter-spacing:0.000px;">7</div>
<div class="t" style="left:265.62px;top:978.3px;font-size:6.2px;color:#5a5656;--ls:0.000px;letter-spacing:0.000px;">8</div>
<div class="t" style="left:290.18px;top:978.3px;font-size:6.2px;color:#5a5656;--ls:0.000px;letter-spacing:0.000px;">9</div>
<div class="t" style="left:312.23px;top:978.3px;font-size:6.2px;color:#5a5656;--ls:0.000px;letter-spacing:0.000px;">10</div>
<div class="t" style="left:337.28px;top:978.3px;font-size:6.2px;color:#5a5656;--ls:0.000px;letter-spacing:0.000px;">11</div>
<div class="t" style="left:361.32px;top:978.3px;font-size:6.2px;color:#5a5656;--ls:0.000px;letter-spacing:0.000px;">12</div>
<div class="t" style="left:446.47px;top:981.0px;font-size:6.2px;color:#5a5656;--ls:0.000px;letter-spacing:0.000px;">1</div>
<div class="t" style="left:471.51px;top:981.0px;font-size:6.2px;color:#5a5656;--ls:0.000px;letter-spacing:0.000px;">2</div>
<div class="t" style="left:496.05px;top:981.0px;font-size:6.2px;color:#5a5656;--ls:0.000px;letter-spacing:0.000px;">3</div>
<div class="t" style="left:520.6px;top:981.0px;font-size:6.2px;color:#5a5656;--ls:0.000px;letter-spacing:0.000px;">4</div>
<div class="t" style="left:545.14px;top:981.0px;font-size:6.2px;color:#5a5656;--ls:0.000px;letter-spacing:0.000px;">5</div>
<div class="t" style="left:569.68px;top:981.0px;font-size:6.2px;color:#5a5656;--ls:0.000px;letter-spacing:0.000px;">6</div>
<div class="t" style="left:593.72px;top:981.0px;font-size:6.2px;color:#5a5656;--ls:0.000px;letter-spacing:0.000px;">7</div>
<div class="t" style="left:618.76px;top:981.0px;font-size:6.2px;color:#5a5656;--ls:0.000px;letter-spacing:0.000px;">8</div>
<div class="t" style="left:643.3px;top:981.0px;font-size:6.2px;color:#5a5656;--ls:0.000px;letter-spacing:0.000px;">9</div>
<div class="t" style="left:665.35px;top:981.0px;font-size:6.2px;color:#5a5656;--ls:0.000px;letter-spacing:0.000px;">10</div>
<div class="t" style="left:690.39px;top:981.0px;font-size:6.2px;color:#5a5656;--ls:0.000px;letter-spacing:0.000px;">11</div>
<div class="t" style="left:714.43px;top:981.0px;font-size:6.2px;color:#5a5656;--ls:0.000px;letter-spacing:0.000px;">12</div>
<div class="t" style="left:378.9px;top:844.5px;font-size:5.5px;color:#5a5656;--ls:-1.000px;letter-spacing:-1.000px;">月份</div>
<div class="t" style="left:732.2px;top:844.5px;font-size:5.5px;color:#5a5656;--ls:-1.000px;letter-spacing:-1.000px;">月份</div>
<div class="t" style="left:379.5px;top:980.4px;font-size:5.5px;color:#5a5656;--ls:-1.000px;letter-spacing:-1.000px;">月份</div>
<div class="t" style="left:732.2px;top:982.5px;font-size:5.5px;color:#5a5656;--ls:-1.000px;letter-spacing:-1.000px;">月份</div>
<div class="t" style="left:348.4px;top:764.0px;font-size:5.6px;color:#5a5656;--ls:0.300px;letter-spacing:0.300px;">当年</div>
<div class="t" style="left:349.4px;top:774.2px;font-size:5.6px;color:#5a5656;--ls:0.300px;letter-spacing:0.300px;">常年</div>
<div class="t" style="left:700.9px;top:762.9px;font-size:5.6px;color:#5a5656;--ls:0.300px;letter-spacing:0.300px;">当年</div>
<div class="t" style="left:701.9px;top:773.1px;font-size:5.6px;color:#5a5656;--ls:0.300px;letter-spacing:0.300px;">常年</div>
<div class="t" style="left:348.4px;top:897.0px;font-size:5.6px;color:#5a5656;--ls:0.300px;letter-spacing:0.300px;">当年</div>
<div class="t" style="left:349.4px;top:907.2px;font-size:5.6px;color:#5a5656;--ls:0.300px;letter-spacing:0.300px;">常年</div>
<div class="t" style="left:699.9px;top:898.1px;font-size:5.6px;color:#5a5656;--ls:0.300px;letter-spacing:0.300px;">当年</div>
<div class="t" style="left:700.9px;top:908.3px;font-size:5.6px;color:#5a5656;--ls:0.300px;letter-spacing:0.300px;">常年</div>
<div class="t" style="left:238.2px;top:1009.8px;font-size:13px;color:#2a5ca8;--ls:0.600px;letter-spacing:0.600px;">图<span style="font-size:1.1em">8</span></div>
<div class="t" style="left:273.8px;top:1010.8px;font-size:13px;color:#2a5ca8;--ls:1.571px;letter-spacing:1.571px;"><span style="font-size:1.1em">2010</span>年各水文代表站月径流量与常年同期比较</div>
<div class="t" style="left:410.9px;top:1063.4px;font-size:14px;color:#ffffff;--ls:0.000px;letter-spacing:0.000px;">8</div>
</body></html>
